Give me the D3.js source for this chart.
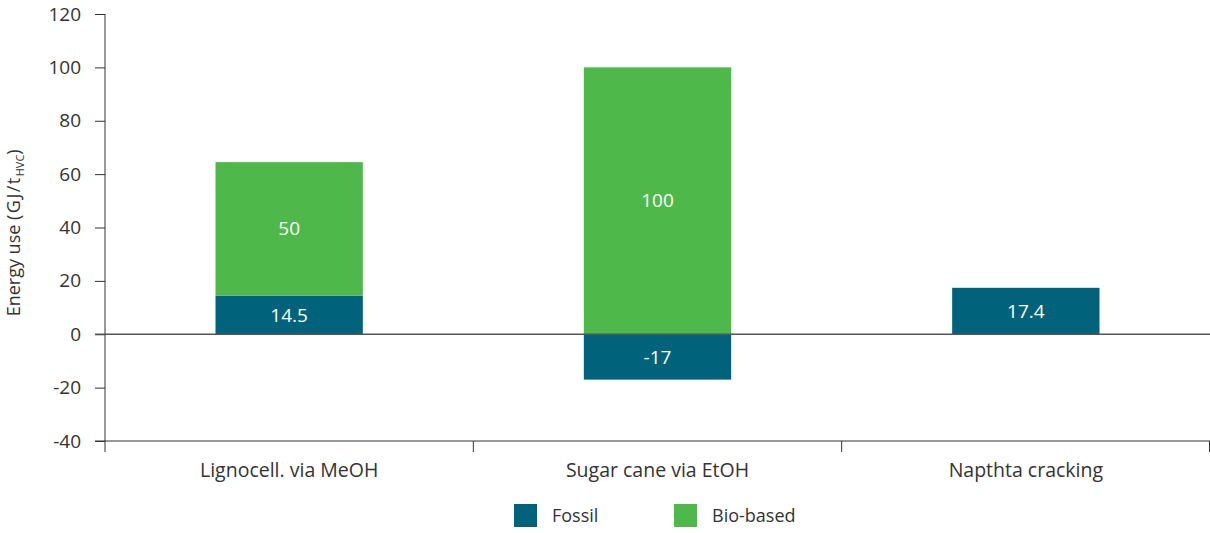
<!DOCTYPE html>
<html>
<head>
<meta charset="utf-8">
<script src="https://cdnjs.cloudflare.com/ajax/libs/d3/7.8.5/d3.min.js"></script>
<style>
  body { margin: 0; background: #fff; }
  svg text { font-family: "Open Sans", "Noto Sans", sans-serif; }
</style>
</head>
<body>
<div id="chart"></div>
<script>
var categories = ['Lignocell. via MeOH', 'Sugar cane via EtOH', 'Napthta cracking'];
var fossil = [14.5, -17, 17.4];
var bioBased = [50, 100, 0];
var yTicks = [-40, -20, 0, 20, 40, 60, 80, 100, 120];
var seriesNames = ['Fossil', 'Bio-based'];

var colors = { fossil: '#00637b', bio: '#4eb94a' };

var width = 1210, height = 533;
var margin = { top: 14, right: 0, bottom: 92, left: 105 };

var svg = d3.select('#chart').append('svg')
  .attr('width', width).attr('height', height);

var y = d3.scaleLinear().domain([-40, 120]).range([height - margin.bottom, margin.top]);
var x = d3.scaleBand().domain(categories).range([margin.left, width - margin.right]).paddingInner(0).paddingOuter(0);
var barW = x.bandwidth() * 0.4;

// y axis
var yAxis = d3.axisLeft(y).tickValues(yTicks).tickSize(10).tickPadding(14).tickFormat(function (d) { return String(d); });
var yG = svg.append('g').attr('transform', 'translate(' + margin.left + ',0)').call(yAxis);
yG.select('.domain').attr('stroke', '#333').attr('d', 'M0,' + y(120) + 'V' + y(-40));
yG.selectAll('.tick line').attr('stroke', '#333');
yG.selectAll('.tick text').attr('fill', '#333').style('font-size', '19px');

// bars
var groups = svg.append('g').selectAll('g').data(categories).enter().append('g');

groups.append('rect')
  .attr('x', function (d) { return x(d) + (x.bandwidth() - barW) / 2; })
  .attr('width', barW)
  .attr('y', function (d, i) { return fossil[i] >= 0 ? y(fossil[i]) : y(0); })
  .attr('height', function (d, i) { return Math.abs(y(fossil[i]) - y(0)); })
  .attr('fill', colors.fossil);

groups.filter(function (d, i) { return bioBased[i] > 0; }).append('rect')
  .attr('x', function (d) { return x(d) + (x.bandwidth() - barW) / 2; })
  .attr('width', barW)
  .attr('y', function (d) { var i = categories.indexOf(d); var base = Math.max(fossil[i], 0); return y(base + bioBased[i]); })
  .attr('height', function (d) { var i = categories.indexOf(d); return y(0) - y(bioBased[i]); })
  .attr('fill', colors.bio);

// value labels
groups.append('text')
  .attr('x', function (d) { return x(d) + x.bandwidth() / 2; })
  .attr('y', function (d, i) { return y(fossil[i] / 2); })
  .attr('dy', '0.35em')
  .attr('text-anchor', 'middle')
  .attr('fill', '#fff')
  .style('font-size', '19px')
  .text(function (d, i) { return fossil[i]; });

groups.filter(function (d, i) { return bioBased[i] > 0; }).append('text')
  .attr('x', function (d) { return x(d) + x.bandwidth() / 2; })
  .attr('y', function (d) { var i = categories.indexOf(d); var base = Math.max(fossil[i], 0); return y(base + bioBased[i] / 2); })
  .attr('dy', '0.35em')
  .attr('text-anchor', 'middle')
  .attr('fill', '#fff')
  .style('font-size', '19px')
  .text(function (d) { return bioBased[categories.indexOf(d)]; });

// zero line
svg.append('line')
  .attr('x1', margin.left - 10).attr('x2', width)
  .attr('y1', y(0)).attr('y2', y(0))
  .attr('stroke', '#555').attr('stroke-width', 1.5);

// bottom axis
var xAxis = d3.axisBottom(x).tickSize(0).tickPadding(22);
var xG = svg.append('g').attr('transform', 'translate(0,' + y(-40) + ')').call(xAxis);
xG.select('.domain').attr('stroke', '#333').attr('d', 'M' + (margin.left - 10) + ',0H' + width);
xG.selectAll('.tick text').attr('fill', '#333').style('font-size', '19.5px');
var bounds = categories.map(function (d) { return x(d); }).concat([x(categories[2]) + x.bandwidth() - 0.5]);
xG.selectAll('.bound').data(bounds).enter().append('line')
  .attr('x1', function (d) { return d; }).attr('x2', function (d) { return d; })
  .attr('y1', 0).attr('y2', 11).attr('stroke', '#333');

// y label
var yl = svg.append('text')
  .attr('transform', 'translate(20,' + y(38) + ') rotate(-90)')
  .attr('text-anchor', 'middle')
  .attr('fill', '#333')
  .style('font-size', '18px');
yl.append('tspan').text('Energy use ');
yl.append('tspan').style('letter-spacing', '1.5px').text('(GJ/t');
yl.append('tspan').attr('dy', 4).style('font-size', '11px').text('HVC');
yl.append('tspan').attr('dy', -4).text(')');

// legend
var legendX = [514, 674];
var legendColors = [colors.fossil, colors.bio];
var lg = svg.append('g').selectAll('g').data(seriesNames).enter().append('g')
  .attr('transform', function (d, i) { return 'translate(' + legendX[i] + ',504)'; });
lg.append('rect').attr('width', 23).attr('height', 23).attr('fill', function (d, i) { return legendColors[i]; });
lg.append('text').attr('x', 38).attr('y', 12).attr('dy', '0.35em')
  .attr('fill', '#333').style('font-size', '18px').text(function (d) { return d; });
</script>
</body>
</html>
